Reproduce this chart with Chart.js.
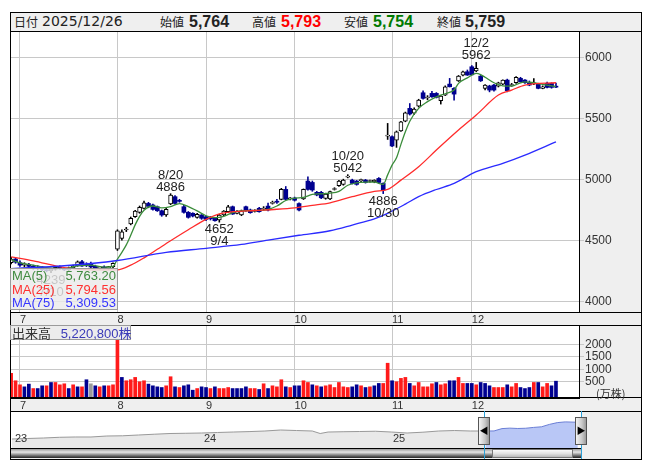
<!DOCTYPE html>
<html lang="ja">
<head>
<meta charset="UTF-8" />
<title>株価チャート 2025/12/26</title>
<script src="https://cdn.jsdelivr.net/npm/chart.js"></script>
<style>
  body { margin: 0; width: 653px; height: 470px; overflow: hidden; background: #fff; color: #222;
         font-family: "Liberation Sans", Arial, "Noto Sans CJK JP", sans-serif; }
  .abs { position: absolute; white-space: nowrap; }
  canvas { position: absolute; }
  .hline { position: absolute; left: 10px; width: 632px; height: 1px; background: #000; }
  .jp { font-family: "Noto Sans CJK JP", sans-serif; font-size: 13px; }
  .hdr { top: 12px; height: 19px; line-height: 19px; }
  .hdr.jp { font-size: 12px; }
  .val { font-weight: bold; font-size: 16px; }
  #maBox { left: 10px; top: 268px; width: 108px; height: 42px; box-sizing: border-box;
           background: rgba(234,234,234,0.82); border: 1px solid #9a9a9a; font-size: 13px; }
  #maBox div { display: flex; justify-content: space-between; height: 13.5px; line-height: 13.5px; padding: 0 1px; }
  #volBox { left: 10px; top: 325px; width: 121px; height: 15px; box-sizing: border-box;
            background: #ececec; border: 1px solid #9a9a9a; font-size: 13px; line-height: 13px; }
  .handle { position: absolute; top: 417px; width: 12px; height: 28px; box-sizing: border-box;
            border: 1px solid #555; background: linear-gradient(to right, #f4f4f4, #c8c8c8 60%, #9a9a9a);
            font-size: 9px; line-height: 26px; text-align: center; color: #000; }
</style>
</head>
<body>

<!-- frame and header -->
<div class="abs" style="left:10px; top:12px; width:632px; height:448px; box-sizing:border-box; border:1px solid #000; background:#efefef;"></div>
<div class="abs hdr jp" style="left:14px;">日付</div>
<div class="abs hdr" style="left:42px; font-family:'DejaVu Sans'; font-size:14px;">2025/12/26</div>
<div class="abs hdr jp" style="left:160px;">始値</div>
<div class="abs hdr val" style="left:189px;">5,764</div>
<div class="abs hdr jp" style="left:252px;">高値</div>
<div class="abs hdr val" style="left:281px; color:#ff0000;">5,793</div>
<div class="abs hdr jp" style="left:344px;">安値</div>
<div class="abs hdr val" style="left:373px; color:#007a00;">5,754</div>
<div class="abs hdr jp" style="left:437px;">終値</div>
<div class="abs hdr val" style="left:465px;">5,759</div>
<div class="hline" style="top:31px;"></div>

<canvas id="priceChart" width="630" height="293" style="left:11px; top:32px;"></canvas>
<canvas id="volChart" width="630" height="85" style="left:11px; top:326px;"></canvas>
<canvas id="navChart" width="570" height="36" style="left:11px; top:412px;"></canvas>

<div class="hline" style="top:312px;"></div>
<div class="hline" style="top:325px;"></div>
<div class="hline" style="top:397px;"></div>
<div class="hline" style="top:411px;"></div>

<!-- moving average legend -->
<div id="maBox" class="abs">
  <div style="color:#3f8a3f;"><span>MA(5)</span><span>5,763.20</span></div>
  <div style="color:#ff3030;"><span>MA(25)</span><span>5,794.56</span></div>
  <div style="color:#3535ff;"><span>MA(75)</span><span>5,309.53</span></div>
</div>

<!-- volume label -->
<div id="volBox" class="abs">
  <span class="jp" style="color:#333; margin-left:1px;">出来高</span>
  <span style="color:#3a3ab8; margin-left:6px;">5,220,800<span class="jp">株</span></span>
</div>
<div class="abs jp" style="left:596px; top:385px; font-size:11px; color:#333;">(万株)</div>

<!-- navigator decorations -->
<div class="abs" style="left:15px; top:432px; font-size:11px; color:#333;">23</div>
<div class="abs" style="left:204px; top:432px; font-size:11px; color:#333;">24</div>
<div class="abs" style="left:393px; top:432px; font-size:11px; color:#333;">25</div>
<div class="abs" style="left:11px; top:448px; width:570px; height:10px; border-top:1px solid #000; box-sizing:border-box;
     background:linear-gradient(to bottom, #9a9a9a, #e6e6e6 35%, #6a6a6a 75%, #222);"></div>
<div class="abs" style="left:492px; top:449px; width:81px; height:9px; box-sizing:border-box; border:1px solid #777;
     background:linear-gradient(to bottom, #fafafa, #e2e2e2 50%, #b8b8b8);"></div>
<div class="abs" style="left:484px; top:411px; width:1px; height:48px; background:#2aa0d8;"></div>
<div class="abs" style="left:581px; top:411px; width:1px; height:48px; background:#2aa0d8;"></div>
<div class="handle" style="left:478px;">&#9664;</div>
<div class="handle" style="left:575px;">&#9654;</div>

<script>
  // one entry per trading day, day -2 = 2025/6/27 ... day 121 = 2025/12/26
  const firstDay = -2;
  const opens = [4320,4350,4320,4300,4305,4290,4275,4285,4262,4255,4265,4282,4270,4262,4278,4295,4328,4300,4310,4290,4278,4285,4272,4288,
    4430,4520,4588,4637,4697,4733,4766,4806,4793,4779,4746,4711,4801,4861,4830,4779,4733,4725,4692,4711,
    4697,4686,4684,4670,4711,4738,4779,4725,4711,4779,4752,4741,4766,4760,4784,4806,4823,4839,4921,4843,
    4850,4805,4842,4989,4978,4897,4897,4847,4842,4920,4951,4962,5022,4997,4989,4993,4997,4986,4985,5011,4970,5358,
    5353,5325,5401,5481,5585,5545,5604,5713,5670,5708,5708,5648,5694,5784,5749,5811,5858,5885,
    5926,5893,5849,5749,5768,5776,5768,5784,5817,5772,5795,5831,5817,5795,5786,5784,5749,5790,5790,5764];
  const highs = [4365,4360,4335,4320,4315,4300,4295,4290,4275,4270,4290,4295,4280,4285,4300,4335,4340,4320,4325,4300,4290,4295,4290,4320,
    4590,4590,4610,4695,4750,4785,4825,4815,4800,4785,4752,4765,4886,4870,4840,4790,4740,4730,4725,4715,
    4702,4700,4690,4715,4748,4790,4785,4748,4752,4785,4760,4755,4775,4780,4810,4825,4840,4930,4945,4855,
    4858,4812,4925,5025,4990,4905,4905,4890,4908,4935,4995,5005,5042,5005,4995,5005,5003,4998,5000,5018,4975,5462,
    5360,5400,5480,5555,5625,5590,5660,5730,5690,5725,5715,5690,5770,5831,5755,5855,5890,5900,
    5935,5962,5855,5780,5775,5782,5800,5820,5825,5790,5845,5840,5822,5810,5830,5790,5770,5800,5795,5793];
  const lows = [4310,4315,4290,4285,4280,4265,4260,4255,4245,4239,4258,4265,4255,4255,4270,4290,4290,4288,4280,4270,4265,4268,4265,4280,
    4420,4505,4575,4630,4690,4725,4760,4770,4750,4740,4700,4700,4795,4800,4815,4725,4685,4695,4685,4675,
    4665,4670,4660,4652,4705,4730,4715,4720,4705,4740,4725,4735,4735,4750,4745,4800,4805,4835,4835,4835,
    4825,4745,4838,4915,4905,4868,4845,4840,4836,4915,4945,4955,5015,4965,4955,4985,4972,4980,4975,4972,4886,5330,
    5270,5265,5395,5475,5530,5535,5595,5660,5655,5675,5670,5620,5690,5760,5653,5805,5850,5855,
    5858,5885,5805,5735,5720,5725,5760,5780,5720,5765,5790,5800,5790,5770,5780,5745,5745,5752,5750,5754];
  const closes = [4350,4325,4300,4310,4290,4275,4285,4262,4255,4265,4282,4270,4262,4278,4295,4328,4293,4298,4285,4278,4285,4272,4288,4315,
    4582,4574,4596,4683,4743,4773,4811,4782,4757,4746,4711,4757,4875,4806,4823,4733,4692,4703,4717,4684,
    4675,4680,4664,4711,4743,4779,4719,4743,4746,4746,4730,4748,4738,4768,4752,4814,4816,4921,4839,4849,
    4832,4752,4921,4921,4916,4875,4852,4883,4902,4927,4989,4997,5030,4970,4962,5000,4978,4992,4995,4978,4916,5366,
    5277,5393,5475,5549,5539,5580,5654,5667,5678,5680,5675,5686,5762,5762,5702,5849,5885,5858,
    5860,5913,5811,5776,5735,5735,5795,5817,5730,5779,5839,5803,5795,5776,5794,5749,5762,5757,5757,5759];
  // 出来高 (万株) and its colour class: u = red, d = navy, n = unchanged
  const volumes = [835,539,377,296,405,228,228,337,337,470,470,377,418,228,377,296,296,580,418,337,296,337,337,377,
    2250,673,539,580,673,499,539,405,337,296,269,337,700,296,269,337,377,162,228,296,
    269,228,296,228,228,269,228,228,228,296,228,228,190,418,228,337,296,580,296,269,
    337,337,539,470,377,337,296,337,377,269,470,296,269,296,377,337,269,296,337,432,432,1240,
    539,499,634,673,432,337,470,296,296,418,470,377,418,539,539,673,432,432,
    432,377,470,432,337,269,269,269,377,296,432,269,228,269,470,470,296,432,337,522];
  const volumeDir = ['u','u','u','d','d','u','d','d','u','d','u','u','u','d','u','d','u','d','n','d','u','d','u','u',
    'u','d','u','u','u','u','u','d','d','d','d','u','u','d','u','d','d','d','u','d',
    'd','u','d','u','u','u','d','d','d','d','u','u','d','u','d','u','u','u','d','u',
    'd','d','u','u','d','u','d','u','u','u','u','u','u','d','d','u','d','u','d','d','u','u',
    'd','u','u','u','d','u','u','u','u','u','d','u','u','d','d','u','u','d',
    'd','u','d','d','d','u','u','u','d','u','u','d','d','d','u','d','u','u','d','d'];

  // moving averages: [day, value]
  const ma5Days = [-2,0,3,6,10,13,16,19,21,22,23,24,25,26,27,28,30,32,34,36,38,40,42,44,46,48,50,53,56,58,60,62,64,66,68,70,72,74,76,78,80,82,83,84,85,86,87,88,90,92,94,96,98,99,101,103,104,105,107,109,111,113,114,116,118,121];
  const ma5Values = [4345,4318,4300,4280,4272,4295,4300,4283,4290,4350,4405,4466,4545,4630,4700,4750,4785,4770,4780,4805,4780,4745,4705,4690,4700,4730,4745,4748,4758,4785,4830,4850,4855,4880,4885,4890,4905,4955,4975,4980,4980,4962,5040,5120,5180,5290,5393,5480,5585,5640,5680,5705,5735,5790,5835,5872,5862,5840,5795,5770,5768,5795,5803,5795,5782,5763];
  const ma25Days = [-2,3,10,16,22,25,28,31,34,38,42,45,48,53,58,62,66,70,75,80,83,86,90,94,99,103,108,111,114,121];
  const ma25Values = [4368,4335,4280,4262,4262,4300,4360,4430,4500,4590,4675,4720,4738,4748,4758,4770,4790,4811,4861,4905,4921,4997,5107,5243,5407,5530,5694,5735,5776,5795];
  const ma75Days = [-2,10,22,33,42,50,56,63,70,75,80,83,87,90,94,98,103,109,114,121];
  const ma75Values = [4272,4295,4338,4405,4438,4470,4506,4545,4582,4629,4680,4725,4800,4861,4920,4970,5066,5134,5202,5310];

  // high / low markers
  const markDays = [7, 34, 45, 74, 82, 103];
  const markValues = [4239, 4886, 4652, 5042, 4886, 5962];
  const markDates = ['7/10', '8/20', '9/4', '10/20', '10/30', '12/2'];
  const markSides = ['low', 'high', 'low', 'high', 'low', 'high'];

  // axes
  const monthStartDays = [0, 22, 42, 62, 84, 102];
  const monthLabels = ['7', '8', '9', '10', '11', '12'];
  const priceTicks = [4000, 4500, 5000, 5500, 6000];
  const volumeTicks = [500, 1000, 1500, 2000];

  // navigator: months since 2023/1 and price
  const navMonths = [0,1,2,3,4,5,6,7,8,9,10,11,12,13,14,15,16,17,18,19,19.5,20,21,22,23,24,25,26,27,28,29,30];
  const navValues = [2965,3050,3130,3250,3300,3300,3465,3500,3630,3760,3880,3920,3965,4050,4130,4200,4300,4465,4380,4300,3880,4130,4180,4215,4260,4130,3965,4100,4300,4380,4300,4300];
  const selMonths = [29.9,30.5,31,31.5,32,32.5,33,33.5,34,34.5,35,35.5,35.8];
  const selValues = [4300,4310,4700,4780,4720,4760,4900,5000,5400,5700,5820,5780,5760];

  const FONT = '"Liberation Sans", Arial, sans-serif';
  const GRID = '#c8c8c8';
  const NAVY = '#000090';
  const xMin = -2.03, xMax = 126.2;

  const areaBg = {
    id: 'areaBg',
    beforeDraw(chart) {
      const { ctx, chartArea: a } = chart;
      ctx.save();
      ctx.fillStyle = '#fff';
      ctx.fillRect(a.left, a.top, a.right - a.left, a.bottom - a.top);
      ctx.restore();
    }
  };

  const markLabels = {
    id: 'markLabels',
    afterDatasetsDraw(chart) {
      const { ctx, scales: { x, y } } = chart;
      ctx.save();
      ctx.font = '13px ' + FONT;
      ctx.fillStyle = '#222';
      ctx.textAlign = 'center';
      markDays.forEach((d, i) => {
        const px = x.getPixelForValue(d);
        const py = y.getPixelForValue(markValues[i]);
        if (markSides[i] === 'high') {
          ctx.fillText(String(markValues[i]), px, py - 3);
          ctx.fillText(markDates[i], px, py - 15);
        } else {
          ctx.fillText(String(markValues[i]), px, py + 11);
          ctx.fillText(markDates[i], px, py + 23);
        }
      });
      ctx.restore();
    }
  };

  function xAxis() {
    return {
      type: 'linear', min: xMin, max: xMax, offset: false,
      grid: { color: GRID, offset: false, drawTicks: false },
      border: { display: true, color: '#000' },
      afterBuildTicks: s => { s.ticks = monthStartDays.map(v => ({ value: v })); },
      ticks: { autoSkip: false, maxRotation: 0, align: 'start', padding: 1, color: '#333',
               font: { size: 11, family: FONT },
               callback: v => monthLabels[monthStartDays.indexOf(v)] ?? '' },
      afterFit: s => { s.height = 13; s.paddingLeft = 0; s.paddingRight = 0; }
    };
  }

  function yAxis(min, max, ticks) {
    return {
      position: 'right', min: min, max: max,
      grid: { color: GRID, tickLength: 5 },
      border: { color: '#000' },
      afterBuildTicks: s => { s.ticks = ticks.map(v => ({ value: v })); },
      ticks: { padding: 1, color: '#333', crossAlign: 'near', font: { size: 12, family: FONT },
               callback: v => String(v) },
      afterFit: s => { s.width = 62; s.paddingTop = 0; s.paddingBottom = 0; }
    };
  }

  const days = opens.map((_, i) => i + firstDay);
  const upWicks = [], downWicks = [], upBodies = [], downBodies = [];
  days.forEach((d, i) => {
    const up = closes[i] >= opens[i];
    (up ? upWicks : downWicks).push({ x: d, y: [lows[i], highs[i]] });
    (up ? upBodies : downBodies).push({ x: d, y: [opens[i], closes[i]] });
  });

  const pairs = (ds, vs) => ds.map((d, i) => ({ x: d, y: vs[i] }));
  const maLine = (data, color) => ({
    type: 'line', data: data, borderColor: color, borderWidth: 1.3, pointRadius: 0,
    cubicInterpolationMode: 'monotone', order: 0
  });

  new Chart(document.getElementById('priceChart'), {
    type: 'bar',
    data: {
      datasets: [
        { data: upWicks, backgroundColor: '#000', barThickness: 1, inflateAmount: 0.3, grouped: false, order: 10 },
        { data: downWicks, backgroundColor: NAVY, barThickness: 1, inflateAmount: 0.3, grouped: false, order: 10 },
        { data: upBodies, backgroundColor: '#fff', borderColor: '#000', borderWidth: 1, borderSkipped: false,
          barThickness: 4, minBarLength: 1, grouped: false, order: 5 },
        { data: downBodies, backgroundColor: NAVY, barThickness: 4, minBarLength: 1, grouped: false, order: 5 },
        maLine(pairs(ma75Days, ma75Values), '#2b2bff'),
        maLine(pairs(ma25Days, ma25Values), '#ff2b2b'),
        maLine(pairs(ma5Days, ma5Values), '#3a8c3a')
      ]
    },
    options: {
      responsive: false, animation: false, events: [],
      layout: { padding: 0 },
      plugins: { legend: { display: false }, tooltip: { enabled: false } },
      scales: { x: xAxis(), y: yAxis(3916, 6211, priceTicks) }
    },
    plugins: [areaBg, markLabels]
  });

  const volColors = volumeDir.map(c => c === 'u' ? '#ff1a1a' : c === 'd' ? NAVY : '#9a9a9a');
  new Chart(document.getElementById('volChart'), {
    type: 'bar',
    data: {
      datasets: [{
        data: days.map((d, i) => ({ x: d, y: volumes[i] })),
        backgroundColor: volColors, base: -150, barThickness: 3, grouped: false
      }]
    },
    options: {
      responsive: false, animation: false, events: [],
      layout: { padding: 0 },
      plugins: { legend: { display: false }, tooltip: { enabled: false } },
      scales: { x: xAxis(), y: yAxis(-150, 2728, volumeTicks) }
    },
    plugins: [areaBg]
  });

  new Chart(document.getElementById('navChart'), {
    type: 'line',
    data: {
      datasets: [
        { data: pairs(navMonths, navValues), borderColor: '#999', backgroundColor: '#e9e9e9',
          borderWidth: 1, fill: 'start', pointRadius: 0 },
        { data: pairs(selMonths, selValues), borderColor: '#6b7fd6', backgroundColor: '#b9c7f6',
          borderWidth: 1, fill: 'start', pointRadius: 0 }
      ]
    },
    options: {
      responsive: false, animation: false, events: [],
      layout: { padding: 0 },
      plugins: { legend: { display: false }, tooltip: { enabled: false } },
      scales: {
        x: { type: 'linear', display: false, min: -0.06, max: 36.0 },
        y: { display: false, min: 1461, max: 7473 }
      }
    },
    plugins: [areaBg]
  });
</script>
</body>
</html>
